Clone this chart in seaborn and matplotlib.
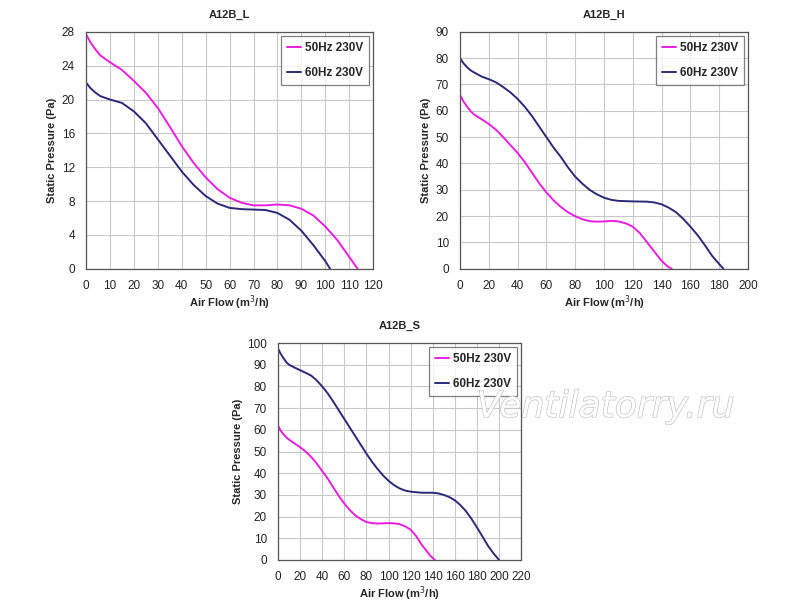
import pandas as pd
import seaborn as sns
import matplotlib.pyplot as plt
import matplotlib.patheffects as pe

sns.set_style('white')
plt.rcParams['font.family'] = ['Liberation Sans', 'DejaVu Sans']

c50 = '#e81ee0'
c60 = '#2a2a78'

# A12B_L
l_x50 = [0, 2, 4, 6, 8, 10, 15, 20, 25, 30, 35, 40, 45, 50, 55, 60, 65, 70, 75, 80, 85, 90, 95, 100, 105, 110, 113.5]
l_y50 = [27.7, 26.7, 25.9, 25.2, 24.8, 24.4, 23.5, 22.2, 20.8, 19.0, 16.8, 14.5, 12.5, 10.8, 9.4, 8.4, 7.8, 7.5, 7.5, 7.6, 7.5, 7.1, 6.3, 5.0, 3.4, 1.4, 0]
l_x60 = [0, 2, 4, 6, 8, 10, 15, 20, 25, 30, 35, 40, 45, 50, 55, 60, 65, 70, 75, 80, 85, 90, 95, 100, 102]
l_y60 = [22.0, 21.3, 20.8, 20.4, 20.2, 20.0, 19.6, 18.6, 17.2, 15.3, 13.4, 11.5, 9.9, 8.6, 7.7, 7.2, 7.05, 7.0, 6.95, 6.6, 5.8, 4.5, 2.8, 0.9, 0]

# A12B_H
h_x50 = [0, 2.5, 5, 7.5, 10, 15, 20, 25, 30, 35, 40, 45, 50, 55, 60, 65, 70, 75, 80, 85, 90, 95, 100, 105, 110, 115, 120, 125, 130, 135, 140, 144, 147]
h_y50 = [66, 63.5, 61.5, 59.8, 58.5, 56.8, 55, 52.8, 50, 47, 44, 40.5, 36.5, 32.5, 29, 26, 23.5, 21.5, 20, 18.8, 18.1, 17.9, 18, 18.2, 18, 17.3, 16, 13.5, 10, 6.5, 3, 1, 0]
h_x60 = [0, 2.5, 5, 7.5, 10, 15, 20, 25, 30, 35, 40, 45, 50, 55, 60, 65, 70, 75, 80, 85, 90, 95, 100, 105, 110, 120, 130, 135, 140, 145, 150, 155, 160, 165, 170, 175, 180, 183]
h_y60 = [80, 78, 76.5, 75.3, 74.5, 73, 72, 70.8, 69, 67, 64.5, 61.5, 58, 54, 50, 46, 42.5, 38.5, 35, 32.3, 30, 28.3, 27, 26.2, 25.8, 25.6, 25.5, 25.2, 24.5, 23.2, 21.5, 19, 16, 12.8, 9, 5, 1.8, 0]

# A12B_S
s_x50 = [0, 2.5, 5, 7.5, 10, 15, 20, 25, 30, 35, 40, 45, 50, 55, 60, 65, 70, 75, 80, 85, 90, 95, 100, 105, 110, 115, 120, 125, 130, 135, 138, 142]
s_y50 = [62, 59.5, 58, 56.5, 55.5, 53.7, 52, 50, 47.5, 44.5, 41, 37.5, 33.5, 29.5, 26, 23, 20.5, 18.8, 17.5, 17, 16.8, 16.9, 17, 16.9, 16.5, 15.5, 14, 11, 7, 3.8, 1.8, 0]
s_x60 = [0, 2.5, 5, 7.5, 10, 15, 20, 25, 30, 35, 40, 45, 50, 55, 60, 65, 70, 75, 80, 85, 90, 95, 100, 105, 110, 115, 120, 130, 140, 145, 150, 155, 160, 165, 170, 175, 180, 185, 190, 195, 200]
s_y60 = [97.5, 95, 93, 91.2, 90, 88.7, 87.5, 86.3, 85, 82.8, 80, 76.8, 73, 69, 65, 61, 57, 53, 49, 45.3, 42, 39, 36.5, 34.5, 33, 32, 31.5, 31, 31, 30.7, 30, 29, 27.5, 25.3, 22.5, 19, 15, 10.8, 6.5, 3, 0]

series = ['50Hz 230V', '60Hz 230V']

charts = [
    ('A12B_L', l_x50, l_y50, l_x60, l_y60, 120, 10, 28, 4, [0.1075, 0.56, 0.359, 0.388]),
    ('A12B_H', h_x50, h_y50, h_x60, h_y60, 200, 20, 90, 10, [0.575, 0.56, 0.36, 0.388]),
    ('A12B_S', s_x50, s_y50, s_x60, s_y60, 220, 20, 100, 10, [0.3475, 0.0835, 0.304, 0.355]),
]

fig = plt.figure(figsize=(8, 6.11), dpi=100)

for title, x50, y50, x60, y60, xmax, xstep, ymax, ystep, pos in charts:
    ax = fig.add_axes(pos)
    df = pd.concat([
        pd.DataFrame({'flow': x50, 'pressure': y50, 'mode': series[0]}),
        pd.DataFrame({'flow': x60, 'pressure': y60, 'mode': series[1]}),
    ])
    sns.lineplot(data=df, x='flow', y='pressure', hue='mode', sort=False,
                 palette=[c50, c60], linewidth=1.4, ax=ax)
    for ln in ax.lines:
        ln.set_solid_joinstyle('round')
    ax.set_xlim(0, xmax)
    ax.set_ylim(0, ymax)
    ax.set_xticks(range(0, xmax + 1, xstep))
    ax.set_yticks(range(0, ymax + 1, ystep))
    ax.grid(True, color='#c8c8c8', linewidth=0.8)
    for s in ax.spines.values():
        s.set_color('#555555')
        s.set_linewidth(0.9)
    ax.tick_params(axis='both', labelsize=8.5, length=3, pad=5, colors='#222222')
    ax.set_xlabel('Air Flow (m$^3$/h)', fontsize=8, fontweight='bold', labelpad=1)
    ax.set_ylabel('Static Pressure (Pa)', fontsize=8, fontweight='bold', labelpad=3)
    ax.set_title(title, fontsize=8, fontweight='bold', pad=10)
    leg = ax.legend(loc='upper right', prop={'weight': 'bold', 'size': 8.5},
                    frameon=True, fancybox=False, edgecolor='#606060',
                    handlelength=1.2, handletextpad=0.3, labelspacing=1.1,
                    borderpad=0.5, borderaxespad=0.35)
    leg.get_frame().set_linewidth(0.9)

fig.text(0.757, 0.334, 'Ventilatorry.ru', fontsize=26, style='italic',
         color='white', ha='center', va='center', family='DejaVu Sans',
         path_effects=[pe.withStroke(linewidth=1.0, foreground='#c4c4c4')])

fig.savefig('out.png', dpi=100, facecolor='white')
